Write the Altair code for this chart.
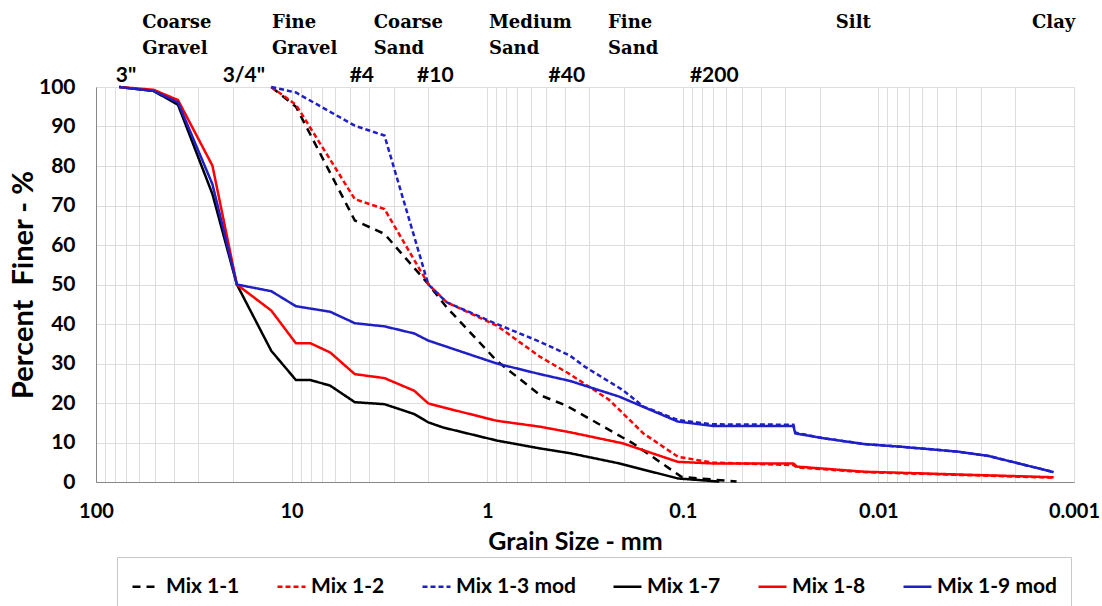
import altair as alt
import pandas as pd

series_names = ["Mix 1-1", "Mix 1-2", "Mix 1-3 mod", "Mix 1-7", "Mix 1-8", "Mix 1-9 mod"]
series_colors = ["#000000", "#ff0000", "#1f1fc8", "#000000", "#ff0000", "#1f1fc8"]
series_dash = [[8, 6], [5, 3], [5, 3], [1, 0], [1, 0], [1, 0]]

mix_1_1_size = [12.7, 9.5, 4.75, 3.35, 2.0, 1.61, 0.894, 0.537, 0.393, 0.180, 0.1016, 0.0531]
mix_1_1_pct = [100, 95, 66.2, 62.8, 50.1, 44.2, 30.7, 22.0, 19.3, 9.8, 1.3, 0.1]

mix_1_2_size = [12.7, 9.5, 4.75, 3.35, 2.0, 1.61, 0.894, 0.537, 0.378, 0.238, 0.159, 0.106,
                0.0706, 0.0272, 0.0261, 0.0118, 0.00127]
mix_1_2_pct = [100, 95.5, 71.6, 69.1, 50.1, 45.5, 39.6, 31.7, 27.3, 20.8, 12.3, 6.4,
               4.9, 4.3, 3.7, 2.5, 1.1]

mix_1_3_size = [12.7, 9.5, 4.75, 3.35, 2.0, 1.61, 0.894, 0.537, 0.378, 0.317, 0.203, 0.159,
                0.106, 0.0706, 0.0272, 0.0266, 0.0192, 0.0118, 0.00757, 0.00395, 0.00274, 0.00127]
mix_1_3_pct = [100, 98.6, 90.2, 87.7, 50.0, 45.5, 40.0, 35.5, 32.0, 29.2, 23.3, 19.1,
               15.7, 14.6, 14.5, 12.5, 11.1, 9.6, 8.9, 7.7, 6.6, 2.5]

mix_1_7_size = [76.2, 50.8, 38.1, 25.4, 19.05, 12.7, 9.5, 8.0, 6.35, 4.75, 3.35, 2.36, 2.0,
                1.68, 0.894, 0.537, 0.378, 0.211, 0.106, 0.065]
mix_1_7_pct = [100, 99.0, 95.5, 72.9, 50, 33.2, 25.8, 25.8, 24.4, 20.2, 19.7, 17.2, 15.1,
               13.8, 10.5, 8.5, 7.3, 4.7, 0.9, 0.1]

mix_1_8_size = [76.2, 50.8, 38.1, 25.4, 19.05, 12.7, 9.5, 8.0, 6.35, 4.75, 3.35, 2.36, 2.0,
                1.68, 0.894, 0.537, 0.378, 0.203, 0.106, 0.0706, 0.0272, 0.0261, 0.0118, 0.00127]
mix_1_8_pct = [100, 99.3, 96.7, 80.1, 50, 43.4, 35.1, 35.1, 32.8, 27.3, 26.3, 23.1, 19.9,
               18.9, 15.5, 14.0, 12.6, 9.8, 5.1, 4.7, 4.7, 3.9, 2.6, 1.2]

mix_1_9_size = [76.2, 50.8, 38.1, 25.4, 19.05, 12.7, 9.5, 6.35, 4.75, 3.35, 2.36, 2.0, 0.894,
                0.537, 0.378, 0.211, 0.106, 0.0706, 0.0272, 0.0266, 0.0192, 0.0118, 0.00757,
                0.00395, 0.00274, 0.00127]
mix_1_9_pct = [100, 99.0, 96.1, 75.4, 50, 48.3, 44.5, 43.1, 40.2, 39.4, 37.6, 35.8, 30.0,
               27.3, 25.6, 21.6, 15.3, 14.2, 14.2, 12.3, 11.1, 9.6, 8.9, 7.7, 6.6, 2.5]

sieve_labels = ['3"', '3/4"', "#4", "#10", "#40", "#200"]
sieve_sizes = [76.2, 19.05, 4.75, 2.0, 0.425, 0.075]

class_labels = ["Coarse\nGravel", "Fine\nGravel", "Coarse\nSand", "Medium\nSand", "Fine\nSand", "Silt", "Clay"]
class_sizes = [58, 12.6, 3.8, 0.98, 0.241, 0.0165, 0.00164]

y_ticks = [0, 10, 20, 30, 40, 50, 60, 70, 80, 90, 100]
x_grid = [round(m * 10 ** k, 6) for k in range(-3, 2) for m in range(1, 10)] + [100]

all_series = [
    (mix_1_1_size, mix_1_1_pct), (mix_1_2_size, mix_1_2_pct), (mix_1_3_size, mix_1_3_pct),
    (mix_1_7_size, mix_1_7_pct), (mix_1_8_size, mix_1_8_pct), (mix_1_9_size, mix_1_9_pct),
]
rows = []
for name, (sizes, pcts) in zip(series_names, all_series):
    for s, p in zip(sizes, pcts):
        rows.append({"series": name, "size": s, "pct": p})
df = pd.DataFrame(rows)

sieve_df = pd.DataFrame({"size": sieve_sizes, "label": sieve_labels})
class_df = pd.DataFrame({"size": class_sizes, "label": class_labels})

x_scale = alt.Scale(type="log", domain=[0.001, 100], reverse=True, nice=False)
x_axis = alt.Axis(
    values=x_grid, grid=True, ticks=False, labelOverlap=False, labelBound=False, labelFlush=False,
    labelExpr="abs(log(datum.value)/LN10 - round(log(datum.value)/LN10)) < 0.000001 ? format(datum.value, '~g') : ''",
    labelFont="Lato", labelFontSize=20, labelFontWeight="bold", labelColor="#000",
    labelPadding=19, title="Grain Size - mm", titleFont="Lato", titleFontSize=25,
    titleFontWeight="bold", titleColor="#000", titlePadding=8, titleX=479,
)
y_axis = alt.Axis(
    values=y_ticks, grid=True, ticks=False, labelFont="Lato", labelFontSize=21,
    labelFontWeight="bold", labelColor="#000", labelPadding=21,
    title="Percent\u00a0 Finer - %", titleFont="Lato", titleFontSize=29,
    titleFontWeight="bold", titleColor="#000", titlePadding=0,
)

legend = alt.Legend(
    orient="none", legendX=21, legendY=470, direction="horizontal",
    columns=6, title=None, symbolType="stroke", symbolSize=784,
    symbolStrokeWidth=2.5, labelFont="Lato", labelFontSize=21,
    labelFontWeight="bold", labelColor="#000", columnPadding=32,
    padding=14, fillColor="white", strokeColor="#c8c8c8", labelLimit=0,
)

lines = alt.Chart(df).mark_line(strokeWidth=2.5).encode(
    x=alt.X("size:Q", scale=x_scale, axis=x_axis),
    y=alt.Y("pct:Q", scale=alt.Scale(domain=[0, 100], nice=False), axis=y_axis),
    color=alt.Color("series:N", scale=alt.Scale(domain=series_names, range=series_colors),
                    legend=legend),
    strokeDash=alt.StrokeDash("series:N", scale=alt.Scale(domain=series_names, range=series_dash),
                              legend=legend),
    order=alt.Order("size:Q", sort="descending"),
)

sieve_text = alt.Chart(sieve_df).mark_text(
    font="Lato", fontSize=21, fontWeight="bold", color="#000", align="center",
    baseline="alphabetic", dx=7,
).encode(
    x=alt.X("size:Q", scale=x_scale, axis=x_axis),
    y=alt.value(-5),
    text="label:N",
)

class_text = alt.Chart(class_df).mark_text(
    font="DejaVu Serif", fontSize=18, fontWeight="bold", color="#000", align="left",
    baseline="alphabetic", lineBreak="\n", lineHeight=26,
).encode(
    x=alt.X("size:Q", scale=x_scale, axis=x_axis),
    y=alt.value(-59),
    text="label:N",
)

chart = alt.layer(lines, sieve_text, class_text).properties(
    width=978, height=395,
    autosize=alt.AutoSizeParams(type="none"),
    padding={"left": 96, "top": 87, "right": 28, "bottom": 124},
).configure_view(
    stroke="#a6a6a6", strokeWidth=1,
).configure_axis(
    gridColor="#b0b0b0", gridWidth=1, gridOpacity=1, domainColor="#595959", domainWidth=1.5,
).configure(background="white")

chart.save("out.html", embed_options={"renderer": "svg", "actions": False})
